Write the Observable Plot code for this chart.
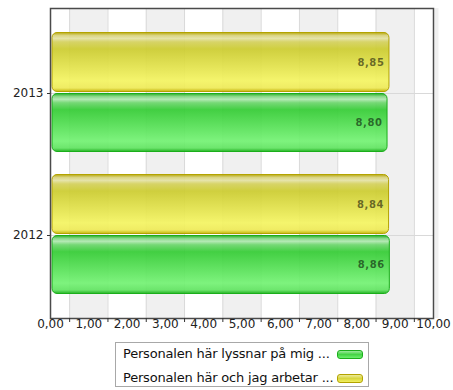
<!DOCTYPE html>
<html>
<head>
<meta charset="utf-8">
<script src="https://cdn.jsdelivr.net/npm/d3@7"></script>
<script src="https://cdn.jsdelivr.net/npm/@observablehq/plot@0.6"></script>
<style>
  html, body { margin: 0; padding: 0; background: #fff; }
  #wrap { position: relative; width: 453px; height: 390px; font-family: "DejaVu Sans", sans-serif; }
  #legend {
    position: absolute; left: 115px; top: 342px; width: 254px; height: 45px;
    border: 1px solid #a8a8a8; background: #fff; box-sizing: border-box;
    font-size: 13px; color: #111;
  }
  .item { position: absolute; left: 7px; height: 16px; line-height: 16px; white-space: nowrap; letter-spacing: -0.2px; }
  .sw { position: absolute; top: 4px; width: 26px; height: 9px; border-radius: 3px; box-sizing: border-box; }
</style>
</head>
<body>
<div id="wrap"></div>
<script>
// Survey results per year (scale 0–10)
const years = ["2013", "2012"];
const seriesNames = ["Personalen här lyssnar på mig ...", "Personalen här och jag arbetar ..."];
const lyssnar = [8.80, 8.86];   // green series
const arbetar = [8.85, 8.84];   // yellow series
const xTickValues = [0, 1, 2, 3, 4, 5, 6, 7, 8, 9, 10];

const fmt = d => d.toFixed(2).replace(".", ",");

const greenRows = years.map((year, i) => ({year, value: lyssnar[i]}));
const yellowRows = years.map((year, i) => ({year, value: arbetar[i]}));

// Gridlines and tick marks sit halfway between the labelled integers
const halves = d3.range(0.5, 10, 1);
const shaded = d3.range(0.5, 10, 2).map(a => ({x1: a, x2: a + 1}));

const valueLabel = {textAnchor: "end", fontWeight: "bold", fontSize: 10, fill: "#000", fillOpacity: 0.55};

const chart = Plot.plot({
  width: 453,
  height: 336,
  marginLeft: 50,
  marginRight: 20,
  marginTop: 8,
  marginBottom: 18,
  style: {fontFamily: "DejaVu Sans, sans-serif", fontSize: "12px", color: "#222", background: "transparent"},
  x: {domain: [0, 10], label: null},
  y: {domain: years, range: [22, 306], padding: 0, label: null},
  marks: [
    Plot.rect(shaded, {x1: "x1", x2: "x2", fill: "#f0f0f0"}),
    Plot.gridX(halves, {stroke: "#d9d9d9", strokeOpacity: 1}),
    Plot.gridY(years, {stroke: "#d9d9d9", strokeOpacity: 1}),
    Plot.barX(yellowRows, {x: "value", y: "year", insetLeft: 2, insetTop: 10.5, insetBottom: 72.5,
      rx: 5, fill: "url(#gradYellow)", fillOpacity: 0.93, stroke: "#b3a300", strokeWidth: 1}),
    Plot.barX(greenRows, {x: "value", y: "year", insetLeft: 2, insetTop: 71.5, insetBottom: 12.5,
      rx: 5, fill: "url(#gradGreen)", fillOpacity: 0.93, stroke: "#1aae1a", strokeWidth: 1}),
    Plot.text(yellowRows, {x: "value", y: "year", text: d => fmt(d.value), dx: -5, dy: -31, ...valueLabel}),
    Plot.text(greenRows, {x: "value", y: "year", text: d => fmt(d.value), dx: -5, dy: 29.5, ...valueLabel}),
    Plot.ruleX([10], {dx: 3, stroke: "#000", strokeOpacity: 0.06, strokeWidth: 4}),
    Plot.frame({stroke: "#4a4a4a", strokeWidth: 1.5}),
    Plot.axisX(xTickValues, {tickSize: 0, tickPadding: 1, tickFormat: fmt}),
    Plot.axisX(halves, {tickSize: 4, tickFormat: () => "", stroke: "#333"}),
    Plot.axisY({tickSize: 3, tickPadding: 4, stroke: "#333"})
  ]
});

// Slightly wider spacing in the value labels
d3.select(chart).selectAll("g[aria-label='text'] text").style("letter-spacing", "0.6px");

// Glossy vertical gradients used by the bars
const defs = d3.select(chart).insert("defs", ":first-child");
function gradient(id, stops) {
  const g = defs.append("linearGradient").attr("id", id)
    .attr("x1", 0).attr("y1", 0).attr("x2", 0).attr("y2", 1);
  stops.forEach(([o, c]) => g.append("stop").attr("offset", o).attr("stop-color", c));
}
gradient("gradYellow", [
  [0, "#b3a300"], [0.05, "#d8d27a"], [0.1, "#e4e2a4"], [0.16, "#d4d15c"],
  [0.28, "#cccc30"], [0.82, "#f4f462"], [0.94, "#eeea58"], [1, "#c2b200"]
]);
gradient("gradGreen", [
  [0, "#18a818"], [0.05, "#7ed67e"], [0.1, "#b0e8b0"], [0.16, "#6cd66c"],
  [0.28, "#35cc35"], [0.82, "#74f274"], [0.94, "#62e462"], [1, "#16ae16"]
]);
gradient("swGreen", [[0, "#22b822"], [0.3, "#9ae89a"], [0.5, "#44d444"], [1, "#6cf06c"]]);
gradient("swYellow", [[0, "#bcae00"], [0.3, "#ecea9a"], [0.5, "#d8d640"], [1, "#f2f060"]]);

const wrap = document.getElementById("wrap");
wrap.appendChild(chart);

// Legend below the chart
const legendColors = [
  {fill: "linear-gradient(#9ae89a, #44d444 50%, #6cf06c)", stroke: "#1aae1a"},
  {fill: "linear-gradient(#ecea9a, #d8d640 50%, #f2f060)", stroke: "#b3a300"}
];
const legend = document.createElement("div");
legend.id = "legend";
seriesNames.forEach((name, i) => {
  const item = document.createElement("div");
  item.className = "item";
  item.style.top = (3 + i * 24) + "px";
  item.textContent = name;
  const sw = document.createElement("div");
  sw.className = "sw";
  sw.style.background = legendColors[i].fill;
  sw.style.border = "1px solid " + legendColors[i].stroke;
  sw.style.left = (336 - 115 - 7) + "px";
  item.appendChild(sw);
  legend.appendChild(item);
});
wrap.appendChild(legend);
</script>
</body>
</html>
